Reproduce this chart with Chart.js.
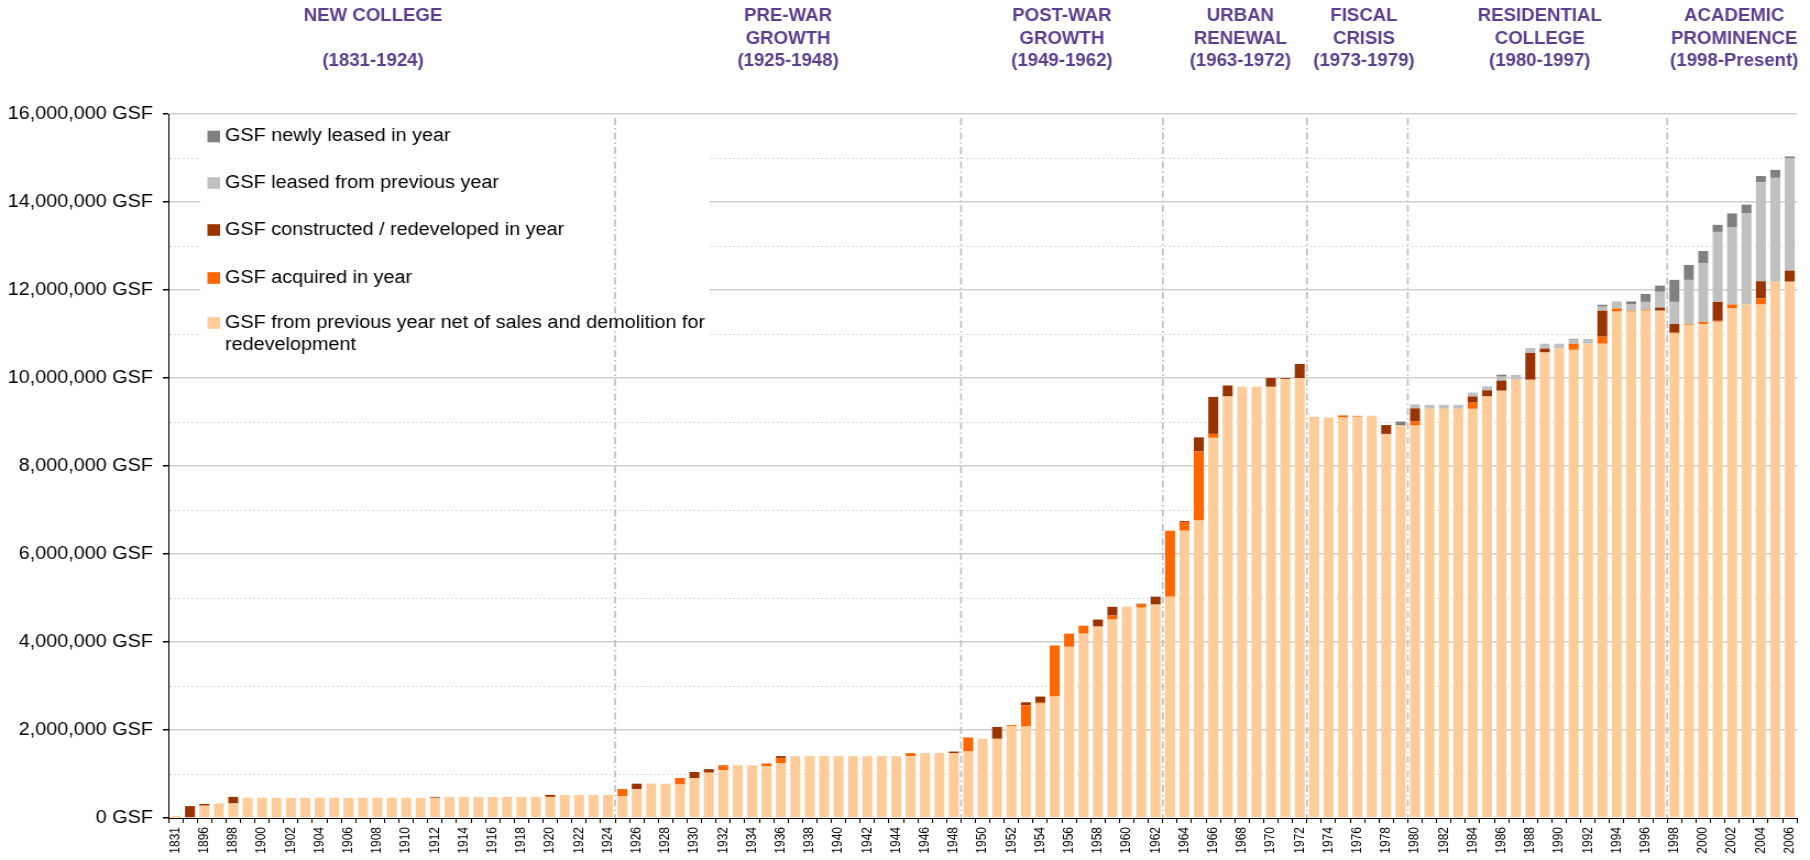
<!DOCTYPE html>
<html>
<head>
<meta charset="utf-8">
<title>GSF by year</title>
<script src="https://cdn.jsdelivr.net/npm/chart.js"></script>
<style>
    html, body { margin: 0; padding: 0; background: #fff; overflow: hidden; }
    /* the source picture is stretched a little sideways, so the canvas is too */
    #wrap { width: 1645px; height: 860px; transform: scaleX(1.1003); transform-origin: 0 0; }
</style>
</head>
<body>
<div id="wrap"><canvas id="chart" width="1645" height="860"></canvas></div>
<script>
// categories
var years = ['1831', '1895', '1896', '1897', '1898', '1899',
    '1900', '1901', '1902', '1903', '1904', '1905', '1906', '1907', '1908', '1909',
    '1910', '1911', '1912', '1913', '1914', '1915', '1916', '1917', '1918', '1919',
    '1920', '1921', '1922', '1923', '1924', '1925', '1926', '1927', '1928', '1929',
    '1930', '1931', '1932', '1933', '1934', '1935', '1936', '1937', '1938', '1939',
    '1940', '1941', '1942', '1943', '1944', '1945', '1946', '1947', '1948', '1949',
    '1950', '1951', '1952', '1953', '1954', '1955', '1956', '1957', '1958', '1959',
    '1960', '1961', '1962', '1963', '1964', '1965', '1966', '1967', '1968', '1969',
    '1970', '1971', '1972', '1973', '1974', '1975', '1976', '1977', '1978', '1979',
    '1980', '1981', '1982', '1983', '1984', '1985', '1986', '1987', '1988', '1989',
    '1990', '1991', '1992', '1993', '1994', '1995', '1996', '1997', '1998', '1999',
    '2000', '2001', '2002', '2003', '2004', '2005', '2006'];

// GSF from previous year net of sales and demolition
var prevYear = [0, 0, 280000, 330000, 330000, 460000,
    460000, 460000, 460000, 460000, 460000, 460000, 460000, 460000, 460000, 460000,
    460000, 460000, 460000, 480000, 480000, 480000, 480000, 480000, 480000, 480000,
    480000, 525000, 525000, 525000, 525000, 500000, 660000, 780000, 780000, 760000,
    910000, 1030000, 1090000, 1200000, 1200000, 1180000, 1250000, 1405000, 1405000, 1405000,
    1405000, 1405000, 1405000, 1405000, 1405000, 1405000, 1475000, 1480000, 1470000, 1510000,
    1800000, 1800000, 2080000, 2080000, 2600000, 2760000, 3890000, 4190000, 4350000, 4510000,
    4800000, 4780000, 4850000, 5030000, 6530000, 6760000, 8640000, 9580000, 9800000, 9800000,
    9800000, 9980000, 10000000, 9120000, 9100000, 9100000, 9120000, 9140000, 8730000, 8920000,
    8920000, 9300000, 9300000, 9300000, 9300000, 9580000, 9710000, 9960000, 9960000, 10580000,
    10670000, 10640000, 10780000, 10780000, 11510000, 11510000, 11530000, 11530000, 11010000, 11210000,
    11230000, 11280000, 11580000, 11670000, 11670000, 12190000, 12190000];

// GSF acquired in year
var acquired = [30000, 0, 0, 0, 0, 0,
    0, 0, 0, 0, 0, 0, 0, 0, 0, 0,
    0, 0, 0, 0, 0, 0, 0, 0, 0, 0,
    0, 0, 0, 0, 0, 160000, 0, 0, 0, 150000,
    0, 0, 110000, 0, 0, 60000, 110000, 0, 0, 0,
    0, 0, 0, 0, 0, 70000, 0, 0, 0, 320000,
    0, 0, 30000, 480000, 20000, 1160000, 300000, 180000, 0, 90000,
    0, 70000, 0, 1500000, 200000, 1570000, 90000, 0, 0, 0,
    0, 0, 0, 0, 0, 50000, 20000, 0, 0, 0,
    90000, 0, 0, 0, 140000, 0, 0, 0, 0, 0,
    0, 140000, 0, 160000, 70000, 20000, 20000, 0, 20000, 20000,
    45000, 20000, 90000, 0, 140000, 0, 0];

// GSF constructed / redeveloped in year
var constructed = [0, 270000, 40000, 0, 150000, 0,
    0, 0, 0, 0, 0, 0, 0, 0, 0, 0,
    0, 0, 20000, 0, 0, 0, 0, 0, 0, 0,
    45000, 0, 0, 0, 0, 0, 120000, 0, 0, 0,
    135000, 80000, 0, 0, 0, 0, 45000, 0, 0, 0,
    0, 0, 0, 0, 0, 0, 0, 0, 40000, 0,
    0, 270000, 0, 70000, 140000, 0, 0, 0, 160000, 200000,
    0, 20000, 180000, 0, 20000, 320000, 840000, 250000, 0, 0,
    200000, 20000, 320000, 0, 0, 0, 0, 0, 200000, 0,
    300000, 0, 0, 0, 140000, 140000, 230000, 0, 610000, 90000,
    0, 0, 0, 590000, 0, 0, 0, 70000, 200000, 0,
    0, 430000, 0, 0, 390000, 0, 250000];

// GSF leased from previous year
var leasedPrev = [0, 0, 0, 0, 0, 0,
    0, 0, 0, 0, 0, 0, 0, 0, 0, 0,
    0, 0, 0, 0, 0, 0, 0, 0, 0, 0,
    0, 0, 0, 0, 0, 0, 0, 0, 0, 0,
    0, 0, 0, 0, 0, 0, 0, 0, 0, 0,
    0, 0, 0, 0, 0, 0, 0, 0, 0, 0,
    0, 0, 0, 0, 0, 0, 0, 0, 0, 0,
    0, 0, 0, 0, 0, 0, 0, 0, 0, 0,
    0, 0, 0, 0, 0, 0, 0, 0, 0, 0,
    90000, 90000, 90000, 90000, 90000, 90000, 90000, 110000, 110000, 110000,
    110000, 90000, 110000, 90000, 160000, 140000, 180000, 360000, 500000, 1000000,
    1340000, 1590000, 1750000, 2070000, 2250000, 2360000, 2550000];

// GSF newly leased in year
var newLease = [0, 0, 0, 0, 0, 0,
    0, 0, 0, 0, 0, 0, 0, 0, 0, 0,
    0, 0, 0, 0, 0, 0, 0, 0, 0, 0,
    0, 0, 0, 0, 0, 0, 0, 0, 0, 0,
    0, 0, 0, 0, 0, 0, 0, 0, 0, 0,
    0, 0, 0, 0, 0, 0, 0, 0, 0, 0,
    0, 0, 0, 0, 0, 0, 0, 0, 0, 0,
    0, 0, 0, 0, 0, 0, 0, 0, 0, 0,
    0, 0, 0, 0, 0, 0, 0, 0, 0, 90000,
    0, 0, 0, 0, 0, 0, 45000, 0, 0, 0,
    0, 20000, 0, 45000, 0, 70000, 180000, 140000, 500000, 340000,
    270000, 160000, 320000, 200000, 140000, 180000, 45000];

// periods shown above the plot
var eraNames = [
    ['NEW COLLEGE', '', '(1831-1924)'],
    ['PRE-WAR', 'GROWTH', '(1925-1948)'],
    ['POST-WAR', 'GROWTH', '(1949-1962)'],
    ['URBAN', 'RENEWAL', '(1963-1972)'],
    ['FISCAL', 'CRISIS', '(1973-1979)'],
    ['RESIDENTIAL', 'COLLEGE', '(1980-1997)'],
    ['ACADEMIC', 'PROMINENCE', '(1998-Present)']
];
var eraStart = ['1831', '1925', '1949', '1963', '1973', '1980', '1998'];
var eraEnd = ['1924', '1948', '1962', '1972', '1979', '1997', '2006'];

var FONT = "'Liberation Sans', Arial, sans-serif";
var PURPLE = '#5B3F8E';
// the title boxes are not exactly centred on their periods
var TITLE_SHIFT = [-17, 0, 0, 5, 6, 2, 2];

// period titles, dash-dot dividers and the legend box
var overlay = {
    id: 'overlay',
    beforeDatasetsDraw: function(chart) {
        var ctx = chart.ctx;
        ctx.save();
        ctx.fillStyle = '#fff';
        ctx.fillRect(182, 116, 463, 246);
        ctx.restore();
    },
    afterDatasetsDraw: function(chart) {
        var ctx = chart.ctx;
        var x = chart.scales.x;
        var area = chart.chartArea;
        var half = (x.getPixelForValue(1) - x.getPixelForValue(0)) / 2;

        ctx.save();
        // dividers between periods
        ctx.strokeStyle = '#bdbdbd';
        ctx.lineWidth = 1.6;
        ctx.setLineDash([7, 3, 1.5, 3]);
        for (var i = 1; i < eraStart.length; i++) {
            var px = x.getPixelForValue(years.indexOf(eraStart[i])) - half;
            ctx.beginPath();
            ctx.moveTo(px, area.top + 4);
            ctx.lineTo(px, area.bottom);
            ctx.stroke();
        }
        ctx.setLineDash([]);

        // period titles
        ctx.fillStyle = PURPLE;
        ctx.font = 'bold 18px ' + FONT;
        ctx.textAlign = 'center';
        ctx.textBaseline = 'middle';
        eraNames.forEach(function(lines, k) {
            var a = x.getPixelForValue(years.indexOf(eraStart[k]));
            var b = x.getPixelForValue(years.indexOf(eraEnd[k]));
            var cx = (a + b) / 2 + TITLE_SHIFT[k];
            lines.forEach(function(t, j) {
                ctx.save();
                ctx.translate(cx, 16.5 + j * 22.5);
                ctx.scale(0.94, 1);
                ctx.fillText(t, 0, 0);
                ctx.restore();
            });
        });

        // legend, top to bottom is the reverse of the stack
        var rows = [136.5, 183, 230, 278, 323];
        ctx.font = '18px ' + FONT;
        ctx.textAlign = 'left';
        var ds = chart.data.datasets.slice().reverse();
        ds.forEach(function(d, k) {
            var cy = rows[k];
            ctx.fillStyle = d.backgroundColor;
            ctx.fillRect(188.5, cy - 5.8, 11.5, 11.6);
            ctx.fillStyle = '#000';
            // simple word wrap
            var words = d.label.split(' ');
            var line = '';
            var lineY = cy;
            words.forEach(function(w) {
                var test = line ? line + ' ' + w : w;
                if (ctx.measureText(test).width > 445 && line) {
                    ctx.fillText(line, 204.5, lineY);
                    line = w;
                    lineY += 22.5;
                } else {
                    line = test;
                }
            });
            ctx.fillText(line, 204.5, lineY);
        });
        ctx.restore();
    }
};

var ctx = document.getElementById('chart').getContext('2d');
var chart = new Chart(ctx, {
    type: 'bar',
    data: {
        labels: years,
        datasets: [
            { label: 'GSF from previous year net of sales and demolition for redevelopment', data: prevYear, backgroundColor: '#FFCC99' },
            { label: 'GSF acquired in year', data: acquired, backgroundColor: '#FF6600' },
            { label: 'GSF constructed / redeveloped in year', data: constructed, backgroundColor: '#993300' },
            { label: 'GSF leased from previous year', data: leasedPrev, backgroundColor: '#C0C0C0' },
            { label: 'GSF newly leased in year', data: newLease, backgroundColor: '#808080' }
        ]
    },
    options: {
        responsive: false,
        animation: false,
        devicePixelRatio: 1,
        layout: { padding: { top: 114, right: 8, left: 0, bottom: 0 } },
        datasets: { bar: { categoryPercentage: 1, barPercentage: 0.69, borderWidth: 0 } },
        plugins: { legend: { display: false }, tooltip: { enabled: false } },
        scales: {
            x: {
                stacked: true,
                grid: { display: true, drawOnChartArea: false, offset: true, tickLength: 5, color: '#000' },
                border: { color: '#000', width: 1 },
                ticks: {
                    autoSkip: false,
                    maxRotation: 90,
                    minRotation: 90,
                    padding: 4,
                    color: '#000',
                    font: { family: FONT, size: 12 },
                    callback: function(v, i) { return i % 2 === 0 ? years[i] : ''; }
                },
                afterFit: function(s) { s.height = 42; }
            },
            y: {
                stacked: true,
                min: 0,
                max: 16000000,
                grid: {
                    color: function(c) {
                        if (!c.tick || c.tick.value === 0) return 'rgba(0,0,0,0)';
                        return c.tick.value % 2000000 === 0 ? '#cfcfcf' : '#dadada';
                    },
                    lineWidth: function(c) {
                        return c.tick && c.tick.value % 2000000 === 0 ? 1.5 : 1;
                    },
                    tickColor: function(c) {
                        return c.tick && c.tick.value % 2000000 === 0 ? '#000' : 'rgba(0,0,0,0)';
                    },
                    tickLength: 5
                },
                border: {
                    color: '#000',
                    width: 1,
                    dash: function(c) {
                        return c.tick && c.tick.value % 2000000 !== 0 ? [2, 2] : [];
                    }
                },
                ticks: {
                    stepSize: 1000000,
                    padding: 9,
                    color: '#000',
                    font: { family: FONT, size: 18 },
                    callback: function(v) {
                        return v % 2000000 === 0 ? v.toLocaleString('en-US') + ' GSF' : '';
                    }
                },
                afterFit: function(s) { s.width = 153; }
            }
        }
    },
    plugins: [overlay]
});
</script>
</body>
</html>
